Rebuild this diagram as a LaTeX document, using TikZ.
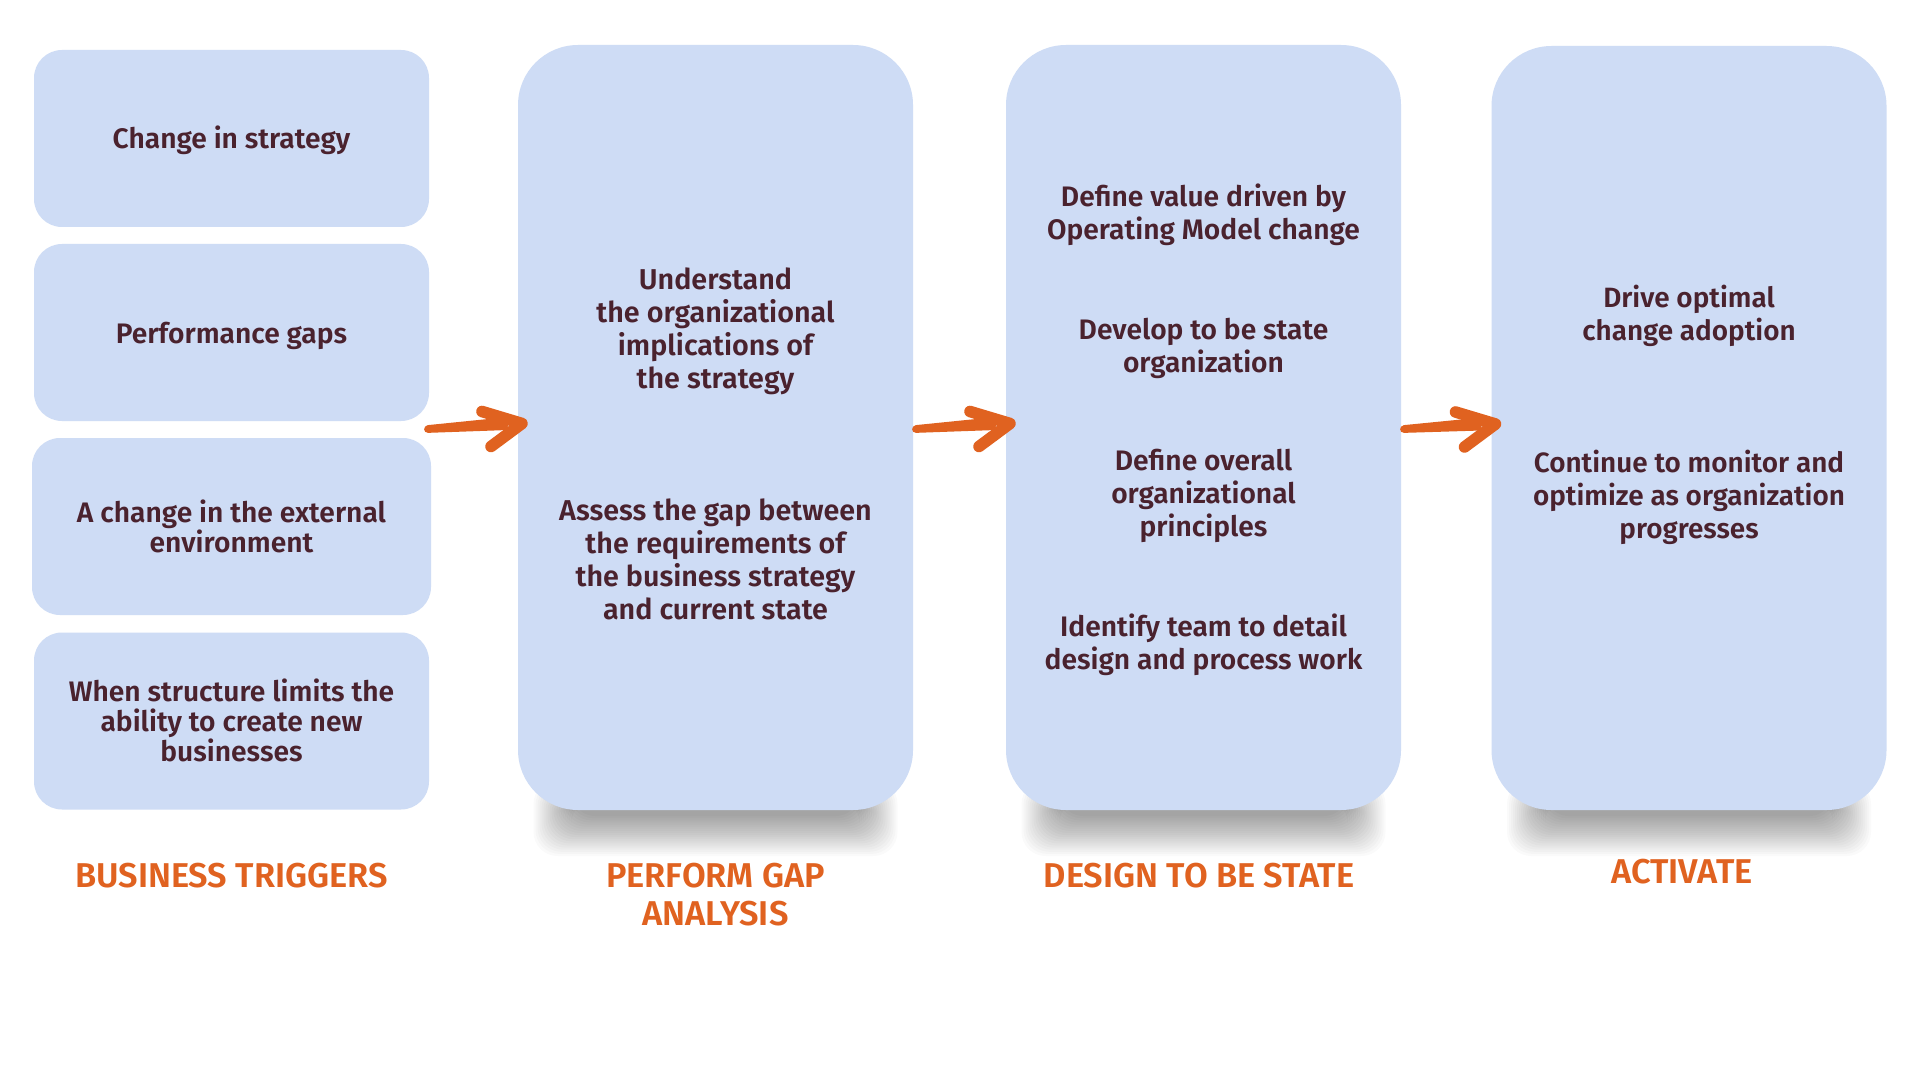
\documentclass[tikz,border=0pt]{standalone}
\usepackage{fontspec}
\setmainfont{Fira Sans SemiBold}
\usetikzlibrary{calc}
\definecolor{boxblue}{RGB}{206,220,245}
\definecolor{txtcol}{RGB}{74,34,46}
\definecolor{orangecol}{RGB}{224,98,32}
\begin{document}
\begin{tikzpicture}[x=0.5pt,y=-0.5pt,
  trigbox/.style={fill=boxblue, draw=none, rounded corners=14pt, inner sep=0pt, outer sep=0pt, minimum width=197.5pt, minimum height=88.5pt},
  phasebox/.style={fill=boxblue, draw=none, rounded corners=30pt, inner sep=0pt, outer sep=0pt, minimum width=197.5pt, minimum height=382.5pt},
  bodytxt/.style={text=txtcol, align=center, inner sep=0pt, font=\fontsize{14.1pt}{15pt}\selectfont},
  gaptxt/.style={text=txtcol, align=center, inner sep=0pt, font=\fontsize{14.35pt}{16.5pt}\selectfont},
  destxt/.style={text=txtcol, align=center, inner sep=0pt, font=\fontsize{14.1pt}{16.5pt}\selectfont},
  acttxt/.style={text=txtcol, align=center, inner sep=0pt, font=\fontsize{13.95pt}{16.5pt}\selectfont},
  lbltxt/.style={text=orangecol, align=center, inner sep=0pt, font=\fontsize{17.2pt}{19pt}\selectfont},
  shadowlayer/.style={fill=black, opacity=0.02, rounded corners=12pt},
  shaft/.style={fill=orangecol, draw=none},
  barb/.style={draw=orangecol, line width=5.8pt, line cap=round, line join=round}
]
\fill[white] (0,0) rectangle (1920,1080);
\useasboundingbox (0,0) rectangle (1920,1080);

% trigger boxes
\node[trigbox] (t1) at (231.5,138.5) {};
\node[trigbox] (t2) at (231.5,332.5) {};
\node[trigbox, minimum width=199.5pt] (t3) at (231.5,526.5) {};
\node[trigbox] (t4) at (231.5,721) {};

% phase boxes
\coordinate (gapbot) at (715.5,810);
\coordinate (desbot) at (1203.5,810);
\coordinate (actbot) at (1689,810);
\foreach \b in {gapbot,desbot,actbot}{
  \foreach \i in {0,...,19}{
    \fill[shadowlayer] ($(\b)+(-182+\i*2,-30+\i)$) rectangle ($(\b)+(182-\i*2,46-\i*2.1)$);
  }
}
\node[phasebox] (gap) at (715.5,427.5) {};
\node[phasebox] (design) at (1203.5,427.5) {};
\node[phasebox, minimum height=382pt] (act) at (1689,428) {};

% texts
\node[bodytxt] (t1x) at (231.5,140.5) {Change in strategy};
\node[bodytxt] (t2x) at (231.5,335.5) {Performance gaps};
\node[bodytxt] (t3x) at (231.5,526.5) {A change in the external\\environment};
\node[bodytxt] (t4x) at (231.5,720) {When structure limits the\\ability to create new\\businesses};

\node[gaptxt] (g1x) at (715.5,331) {Understand\\the organizational\\implications of\\the strategy};
\node[gaptxt] (g2x) at (715.5,559) {Assess the gap between\\the requirements of\\the business strategy\\and current state};

\node[destxt] (d1x) at (1203.5,215) {Define value driven by\\Operating Model change};
\node[destxt] (d2x) at (1203.5,348) {Develop to be state\\organization};
\node[destxt] (d3x) at (1203.5,496) {Define overall\\organizational\\principles};
\node[destxt] (d4x) at (1203.5,645) {Identify team to detail\\design and process work};

\node[acttxt] (a1x) at (1689,316) {Drive optimal\\change adoption};
\node[acttxt] (a2x) at (1689,497) {Continue to monitor and\\optimize as organization\\progresses};

% labels
\node[lbltxt] (l1) at (231.5,875.5) {BUSINESS TRIGGERS};
\node[lbltxt] (l2) at (715.5,894.5) {PERFORM GAP\\ANALYSIS};
\node[lbltxt] (l3) at (1199,875.5) {DESIGN TO BE STATE};
\node[lbltxt] (l4) at (1682,872) {ACTIVATE};

% arrows
\coordinate (a1s) at (424,429);
\coordinate (a1t) at ($(gap.west)+(4,-4)$);
\coordinate (a2s) at ($(gap.east)+(-1,1.5)$);
\coordinate (a2t) at ($(design.west)+(4,-4)$);
\coordinate (a3s) at ($(design.east)+(-1,1.5)$);
\coordinate (a3t) at ($(act.west)+(4,-4)$);
\foreach \s/\t in {a1s/a1t,a2s/a2t,a3s/a3t}{
  \fill[shaft, rounded corners=2pt] ($(\s)+(0,-3.5)$) -- ($(\t)+(-14,-6.5)$) -- ($(\t)+(-14,6.5)$) -- ($(\s)+(0,4)$) -- cycle;
  \draw[barb] ($(\t)+(-40,-12)$) -- (\t) -- ($(\t)+(-31,23)$);
}
\end{tikzpicture}
\end{document}
